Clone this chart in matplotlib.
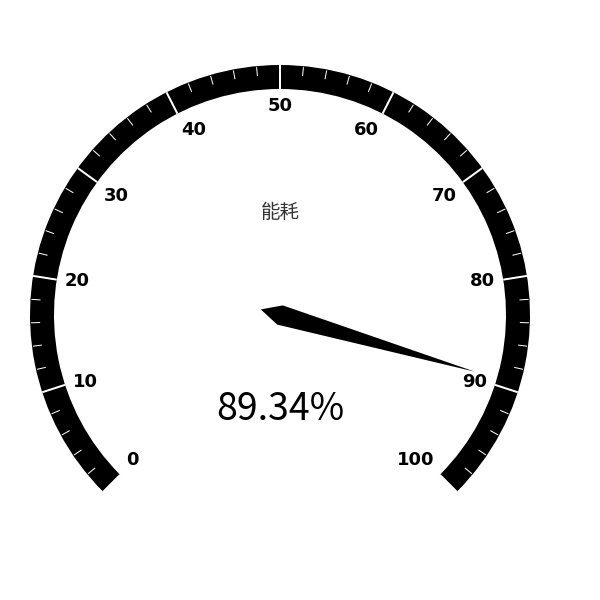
import numpy as np
import matplotlib
matplotlib.use("Agg")
import matplotlib.pyplot as plt
from matplotlib.patches import Wedge, Polygon

plt.rcParams['font.family'] = ['Noto Sans CJK SC', 'DejaVu Sans']

# ---- data ----
title_text = "能耗"
value = 89.34
axis_min = 0
axis_max = 100
split_number = 10
sub_ticks = 5
tick_labels = [str(v) for v in range(0, 101, 10)]

# ---- geometry (pixels) ----
W = H = 600
cx, cy = 280, 600 - 315
R = 250
band = 24
start_ang, end_ang = 225, -45


def ang(v):
    return np.deg2rad(start_ang + (end_ang - start_ang) * (v - axis_min) / (axis_max - axis_min))


fig = plt.figure(figsize=(6, 6), dpi=100)
ax = fig.add_axes([0, 0, 1, 1])
ax.set_xlim(0, W)
ax.set_ylim(0, H)
ax.set_aspect('equal')
ax.axis('off')

# axis band
ax.add_patch(Wedge((cx, cy), R, end_ang, start_ang, width=band, facecolor='black', edgecolor='none', zorder=1))

px = 72 / 100  # points per pixel

# minor ticks
n_minor = split_number * sub_ticks
for i in range(n_minor + 1):
    if i % sub_ticks == 0:
        continue
    v = axis_min + (axis_max - axis_min) * i / n_minor
    a = ang(v)
    r0, r1 = R - 1, R - 10
    ax.plot([cx + r0 * np.cos(a), cx + r1 * np.cos(a)], [cy + r0 * np.sin(a), cy + r1 * np.sin(a)],
            color='white', lw=1 * px, solid_capstyle='butt', zorder=2)

# split lines + labels
for i in range(split_number + 1):
    v = axis_min + (axis_max - axis_min) * i / split_number
    a = ang(v)
    r0, r1 = R, R - band
    ax.plot([cx + r0 * np.cos(a), cx + r1 * np.cos(a)], [cy + r0 * np.sin(a), cy + r1 * np.sin(a)],
            color='white', lw=2 * px, solid_capstyle='butt', zorder=2)
    c, s = np.cos(a), np.sin(a)
    ha = 'left' if c < -0.4 else ('right' if c > 0.4 else 'center')
    va = 'top' if s > 0.4 else ('bottom' if s < -0.4 else 'center')
    rl = 218
    ax.text(cx + rl * c, cy + rl * s, tick_labels[i], ha=ha, va=va, fontsize=13,
            fontweight='bold', family=['DejaVu Sans'], color='black', zorder=3)

# pointer
a = ang(value)
pw = 10
plen = 203
back = (cx - np.cos(a) * pw * 2, cy - np.sin(a) * pw * 2)
pa = a - np.pi / 2
pts = [back,
       (cx + np.cos(pa) * pw, cy + np.sin(pa) * pw),
       (cx + np.cos(a) * plen, cy + np.sin(a) * plen),
       (cx - np.cos(pa) * pw, cy - np.sin(pa) * pw)]
ax.add_patch(Polygon(pts, closed=True, facecolor='black', edgecolor='none', zorder=4))

# title and detail
ax.text(280, 600 - 212, title_text, ha='center', va='center', fontsize=14, color='#333333', zorder=5)
ax.text(280, 600 - 409, f"{value:.2f}%", ha='center', va='center', fontsize=27, color='black', zorder=5)

fig.savefig('out.png', dpi=100, facecolor='white')
